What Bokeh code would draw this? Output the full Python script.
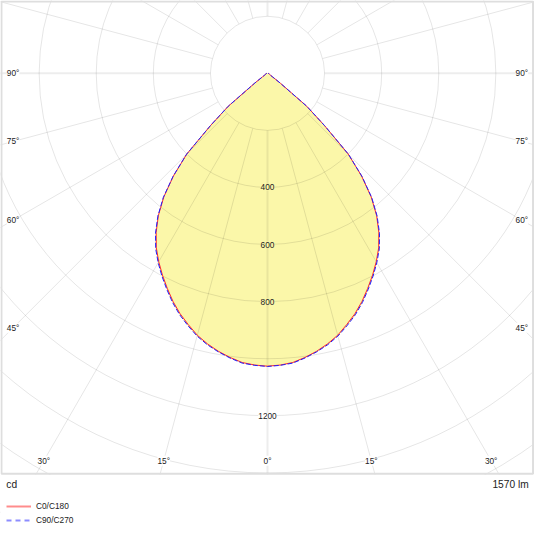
import numpy as np
from bokeh.plotting import figure
from bokeh.models import Range1d, Legend, LegendItem
from bokeh.core.properties import value
from bokeh.embed import file_html
from bokeh.resources import INLINE

# luminous intensity (cd) against gamma angle from nadir
gamma = [0, 2.5, 5, 7.5, 10, 12.5, 15, 17.5, 20, 22.5, 25, 27.5, 30, 32.5, 35, 37.5,
         40, 42.5, 45, 47.5, 50, 52.5, 55, 57.5, 60, 62.5, 65, 67.5, 70, 72.5, 75,
         77.5, 80, 82.5, 85, 87.5, 90]
c0_c180 = [1026, 1023, 1017, 1004, 989, 971, 950, 923, 896, 865, 831, 797, 762, 725,
           680, 628, 565, 488, 400, 270, 179, 56, 21, 12, 9, 8, 7, 6, 6, 5, 5, 4, 4,
           3, 3, 2, 2]
c90_c270 = [1027, 1024, 1019, 1006, 991, 974, 953, 927, 900, 869, 835, 801, 766, 729,
            684, 631, 568, 490, 401, 271, 180, 56, 21, 12, 9, 8, 7, 6, 6, 5, 5, 4, 4,
            3, 3, 2, 2]
series_names = ["C0/C180", "C90/C270"]

rings = [200, 400, 600, 800, 1000, 1200, 1400, 1600, 1800]
ring_labels = [400, 600, 800, 1200]
ray_angles = list(range(0, 360, 15))
angle_labels = [90, 75, 60, 45, 30, 15, 0]
unit_text = "cd"
flux_text = "1570 lm"

FONT_NAME = "Liberation Sans"
FONT = value(FONT_NAME)
FILL = "#fbf7a9"

# the reference is 550 px wide, 0.294 px per cd, pole at (275, 75)
W = 534
k = W / 550
S, CX, CY = 0.294, 275, 75


def at(xr, yr):
    return (xr - CX) / S, (CY - yr) / S


p = figure(width=W, height=W, output_backend="svg", toolbar_location=None,
           x_range=Range1d(-CX / S, (550 - CX) / S),
           y_range=Range1d((CY - 550) / S, CY / S),
           x_axis_location=None, y_axis_location=None, min_border=0)
p.grid.visible = False
p.outline_line_color = None

g = np.radians(gamma)


def outline(vals):
    v = np.array(vals, dtype=float)
    xs = np.concatenate([-v[::-1] * np.sin(g[::-1]), v[1:] * np.sin(g[1:])])
    ys = np.concatenate([-v[::-1] * np.cos(g[::-1]), -v[1:] * np.cos(g[1:])])
    return xs, ys


bx, by = outline(c90_c270)
p.patch(bx, by, fill_color=FILL, line_color=None)

# grid: rings and rays
p.circle(x=[0] * len(rings), y=[0] * len(rings), radius=rings,
         fill_color=None, line_color="black", line_alpha=0.1, line_width=1)
a = np.radians(ray_angles)
r0, r1 = rings[0], 2200
major = np.array([ang % 90 == 0 for ang in ray_angles])
for sel, lw, alpha in [(~major, 1, 0.1), (major, 2, 0.07)]:
    p.segment(x0=r0 * np.sin(a[sel]), y0=-r0 * np.cos(a[sel]),
              x1=r1 * np.sin(a[sel]), y1=-r1 * np.cos(a[sel]),
              line_color="black", line_alpha=alpha, line_width=lw)

# curves
rx, ry = outline(c0_c180)
p.line(rx, ry, line_color="#ff2a2a", line_width=1)
p.line(bx, by, line_color="#2020ff", line_width=1, line_dash="5 2")

# radial value labels
inside = [v for v in ring_labels if v < c0_c180[0]]
outside = [v for v in ring_labels if v >= c0_c180[0]]
for vals, bg in [(inside, FILL), (outside, "white")]:
    p.text(x=[0] * len(vals), y=[-v for v in vals], text=[str(v) for v in vals],
           text_font=FONT, text_font_size=f"{8.6 * k:.1f}px", text_color="#222222",
           text_align="center", text_baseline="middle", background_fill_color=bg)

# angle labels where the rays meet an inset box
side_lim, bottom_lim = 262 / S, 399 / S
lx, ly, lt = [], [], []
for ang in angle_labels:
    t = np.radians(ang)
    d = bottom_lim / np.cos(t) if np.cos(t) > 1e-9 else np.inf
    if np.sin(t) > 1e-9:
        d = min(d, side_lim / np.sin(t))
    for s in ([1] if ang == 0 else [-1, 1]):
        lx.append(s * d * np.sin(t))
        ly.append(-d * np.cos(t))
        lt.append(f"{ang}°")
p.text(x=lx, y=ly, text=lt, text_font=FONT, text_font_size=f"{8.6 * k:.1f}px",
       text_color="#222222", text_align="center", text_baseline="middle",
       background_fill_color="white")

# blank strip under the diagram and the frame
x0, y0 = at(0, 488.5)
x1, y1 = at(550, 550)
p.quad(left=x0, right=x1, top=y0, bottom=y1, fill_color="white", line_color=None)
fl, ft = at(1, 1)
fr, fb = at(548.5, 487.5)
p.quad(left=fl, right=fr, top=ft, bottom=fb, fill_color=None,
       line_color="#dedede", line_width=2)

ux, uy = at(6, 498)
p.text(x=[ux], y=[uy], text=[unit_text], text_font=FONT,
       text_font_size=f"{10.5 * k:.1f}px", text_color="#222222",
       text_align="left", text_baseline="middle")
fx, fy = at(544, 498)
p.text(x=[fx], y=[fy], text=[flux_text], text_font=FONT,
       text_font_size=f"{10.5 * k:.1f}px", text_color="#222222",
       text_align="right", text_baseline="middle")

# legend with pale samples
nan2 = [np.nan, np.nan]
l1 = p.line(nan2, nan2, line_color="red", line_alpha=0.45, line_width=2)
l2 = p.line(nan2, nan2, line_color="blue", line_alpha=0.45, line_width=2,
            line_dash="5 4")
legend = Legend(items=[LegendItem(label=series_names[0], renderers=[l1]),
                       LegendItem(label=series_names[1], renderers=[l2])],
                location=(6, 7.6), orientation="vertical",
                glyph_width=25, glyph_height=12, label_height=12, spacing=2,
                label_standoff=5, padding=0, margin=0,
                border_line_color=None, background_fill_alpha=0,
                label_text_font=FONT_NAME, label_text_font_size=f"{8.6 * k:.1f}px",
                label_text_color="#222222")
p.add_layout(legend)

open("out.html", "w").write(file_html(p, INLINE))
